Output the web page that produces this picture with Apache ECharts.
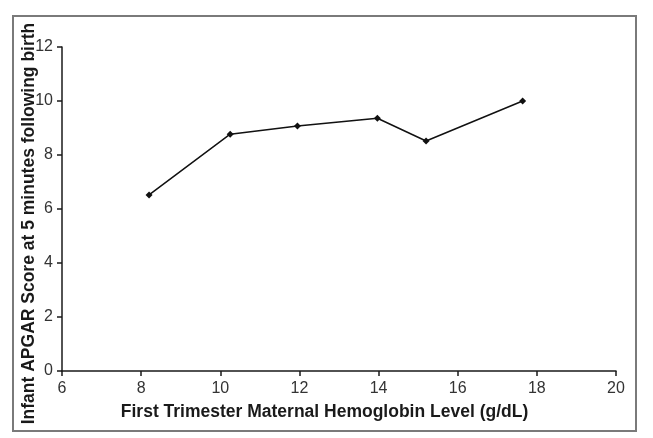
<!DOCTYPE html>
<html><head><meta charset="utf-8">
<script src="https://cdn.jsdelivr.net/npm/echarts@6/dist/echarts.min.js"></script>
<style>html,body{margin:0;padding:0;background:#fff}#c{width:653px;height:438px}</style>
</head><body><div id="c"></div>
<script>
const hemoglobin = [8.2, 10.25, 11.95, 13.97, 15.2, 17.64];
const apgar = [6.52, 8.77, 9.07, 9.36, 8.52, 10.0];
const xTitle = 'First Trimester Maternal Hemoglobin Level (g/dL)';
const yTitle = 'Infant APGAR Score at 5 minutes following birth';

const chart = echarts.init(document.getElementById('c'), null, {renderer: 'canvas'});
const font = 'Liberation Sans, Arial, sans-serif';
chart.setOption({
  animation: false,
  backgroundColor: '#fff',
  graphic: [{
    type: 'rect', shape: {x: 13, y: 16, width: 623, height: 415},
    style: {fill: 'none', stroke: '#7a7a7a', lineWidth: 2}, silent: true, z: -1
  }],
  grid: {left: 62, top: 47, right: 37, bottom: 67, containLabel: false, outerBoundsMode: 'none'},
  xAxis: {
    type: 'value', min: 6, max: 20, interval: 2,
    name: xTitle, nameLocation: 'middle', nameGap: 32, nameMoveOverlap: false,
    nameTextStyle: {fontFamily: font, fontSize: 17.5, fontWeight: 'bold', color: '#1a1a1a', padding: [0, 29, 0, 0]},
    axisLine: {show: true, lineStyle: {color: '#1a1a1a', width: 1.5}},
    axisTick: {show: true, length: 5, lineStyle: {color: '#1a1a1a', width: 1.5}},
    axisLabel: {fontFamily: font, fontSize: 16, color: '#333', margin: 10},
    splitLine: {show: false}
  },
  yAxis: {
    type: 'value', min: 0, max: 12, interval: 2,
    name: yTitle, nameLocation: 'middle', nameGap: 24, nameMoveOverlap: false,
    nameTextStyle: {fontFamily: font, fontSize: 17.5, fontWeight: 'bold', color: '#1a1a1a', padding: [0, 29, 0, 0]},
    axisLine: {show: true, lineStyle: {color: '#1a1a1a', width: 1.5}},
    axisTick: {show: true, length: 5, lineStyle: {color: '#1a1a1a', width: 1.5}},
    axisLabel: {fontFamily: font, fontSize: 16, color: '#333', margin: 9},
    splitLine: {show: false}
  },
  series: [{
    type: 'line',
    data: hemoglobin.map((x, i) => [x, apgar[i]]),
    symbol: 'diamond', symbolSize: 7,
    lineStyle: {color: '#111', width: 1.5},
    itemStyle: {color: '#111'}
  }]
});
</script></body></html>
